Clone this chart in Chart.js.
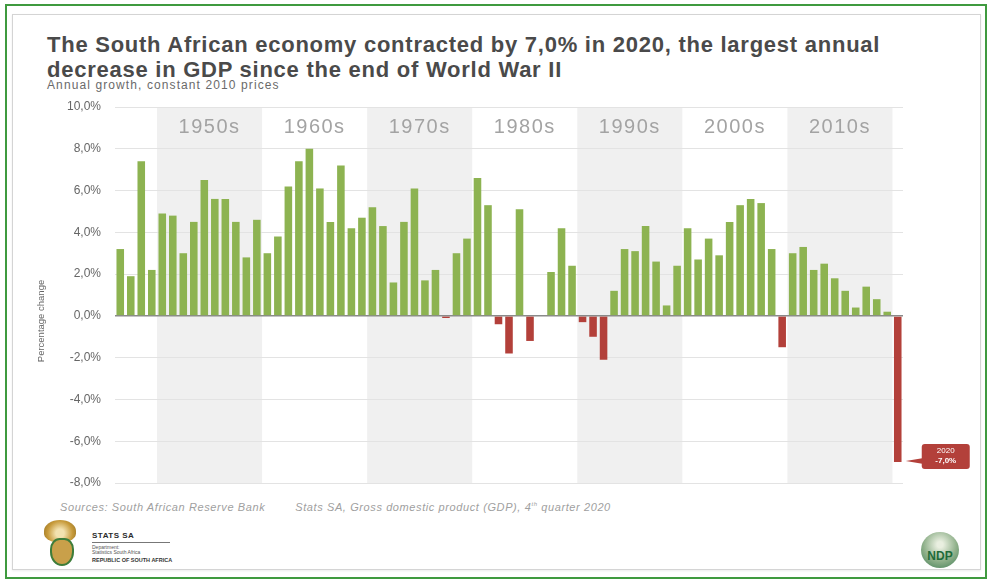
<!DOCTYPE html>
<html>
<head>
<meta charset="utf-8">
<script src="https://cdn.jsdelivr.net/npm/chart.js@4/dist/chart.umd.min.js"></script>
<style>
  body { margin: 0; background: #fff; font-family: "Liberation Sans", Arial, sans-serif; }
  #page { position: relative; width: 991px; height: 582px; overflow: hidden; }
  #frame { position: absolute; left: 5px; top: 4px; width: 978px; height: 571px; border: 2px solid #3f9a3f; }
  #card { position: absolute; left: 12px; top: 14px; width: 967px; height: 554px; border: 1px solid #d4d4d4; box-shadow: 0 1px 2px rgba(0,0,0,0.08); }
  #title { position: absolute; left: 47px; top: 32px; font-weight: bold; font-size: 22px; line-height: 25px; color: #4a4a4a; letter-spacing: 0.75px; white-space: nowrap; }
  #subtitle { position: absolute; left: 47px; top: 78px; font-size: 12px; color: #6a6a6a; letter-spacing: 1.1px; }
  #sources { position: absolute; left: 60px; top: 501px; font-size: 11px; font-style: italic; color: #a0a0a0; letter-spacing: 0.6px; white-space: nowrap; }
  #sources span { margin-right: 30px; }
  #chart { position: absolute; left: 0; top: 0; }
  #arms { position: absolute; left: 44px; top: 520px; width: 32px; height: 48px; }
  #arms .top { position: absolute; left: 0; top: 0; width: 32px; height: 22px; border-radius: 50% 50% 40% 40%; background: radial-gradient(circle at 50% 60%, #f3e2b0 20%, #c79a3a 60%, #8a6a20 100%); }
  #arms .shield { position: absolute; left: 6px; top: 18px; width: 20px; height: 24px; border-radius: 40% 40% 50% 50%; background: #c9a04a; border: 2px solid #3e7d3a; }
  #statsname { position: absolute; left: 92px; top: 531px; font-size: 8px; font-weight: bold; color: #2b2b2b; letter-spacing: 0.5px; }
  #statsline { position: absolute; left: 92px; top: 542px; width: 78px; border-top: 1px solid #777; }
  #statsdept { position: absolute; left: 92px; top: 545px; font-size: 5px; line-height: 5px; color: #555; }
  #statsrep { position: absolute; left: 92px; top: 557px; font-size: 5.5px; font-weight: bold; color: #333; }
  #ndp { position: absolute; left: 921px; top: 532px; width: 38px; height: 36px; border-radius: 50%; background: radial-gradient(circle at 50% 35%, #e9efe0 10%, #8fb08a 55%, #3c7a52 100%); }
  #ndp span { position: absolute; left: 0; width: 38px; top: 17px; text-align: center; font-size: 12px; font-weight: bold; color: #1f6b3a; }
</style>
</head>
<body>
<div id="page">
  <div id="frame"></div>
  <div id="card"></div>
  <div id="title">The South African economy contracted by 7,0% in 2020, the largest annual<br>decrease in GDP since the end of World War II</div>
  <div id="subtitle">Annual growth, constant 2010 prices</div>
  <div id="sources"><span>Sources: South African Reserve Bank</span><span>Stats SA, Gross domestic product (GDP), 4<sup style="font-size:6px">th</sup> quarter 2020</span></div>
  <div id="arms"><div class="top"></div><div class="shield"></div></div>
  <div id="statsname">STATS SA</div>
  <div id="statsline"></div>
  <div id="statsdept">Department:<br>Statistics South Africa</div>
  <div id="statsrep">REPUBLIC OF SOUTH AFRICA</div>
  <div id="ndp"><span>NDP</span></div>
  <canvas id="chart" width="991" height="582"></canvas>
</div>
<script>
// Annual GDP growth, 1946 - 2020
const firstYear = 1946;
const growth = [
  3.2, 1.9, 7.4, 2.2,
  4.9, 4.8, 3.0, 4.5, 6.5, 5.6, 5.6, 4.5, 2.8, 4.6,
  3.0, 3.8, 6.2, 7.4, 8.0, 6.1, 4.5, 7.2, 4.2, 4.7,
  5.2, 4.3, 1.6, 4.5, 6.1, 1.7, 2.2, -0.1, 3.0, 3.7,
  6.6, 5.3, -0.4, -1.8, 5.1, -1.2, 0.0, 2.1, 4.2, 2.4,
  -0.3, -1.0, -2.1, 1.2, 3.2, 3.1, 4.3, 2.6, 0.5, 2.4,
  4.2, 2.7, 3.7, 2.9, 4.5, 5.3, 5.6, 5.4, 3.2, -1.5,
  3.0, 3.3, 2.2, 2.5, 1.8, 1.2, 0.4, 1.4, 0.8, 0.2,
  -7.0
];
const years = growth.map((v, i) => String(firstYear + i));
const decades = ['1950s', '1960s', '1970s', '1980s', '1990s', '2000s', '2010s'];
const decadeStart = [1950, 1960, 1970, 1980, 1990, 2000, 2010];
const shadedDecades = ['1950s', '1970s', '1990s', '2010s'];
const yTicks = [10, 8, 6, 4, 2, 0, -2, -4, -6, -8];

const green = '#8db351';
const red = '#b3403a';

const fmt = v => v.toFixed(1).replace('.', ',') + '%';

const decadeBands = {
  id: 'decadeBands',
  beforeDraw(chart) {
    const { ctx } = chart;
    const x = chart.scales.x, y = chart.scales.y;
    const slot = x.getPixelForValue(1) - x.getPixelForValue(0);
    const top = y.getPixelForValue(10), bottom = y.getPixelForValue(-8);
    ctx.save();
    decades.forEach((d, i) => {
      const i0 = decadeStart[i] - firstYear;
      const x0 = x.getPixelForValue(i0) - slot / 2;
      const x1 = x.getPixelForValue(i0 + 9) + slot / 2;
      if (shadedDecades.includes(d)) {
        ctx.fillStyle = '#f0f0f0';
        ctx.fillRect(x0, top, x1 - x0, bottom - top);
      }
      ctx.fillStyle = '#a3a3a3';
      ctx.font = '20px "Liberation Sans", Arial, sans-serif';
      ctx.letterSpacing = '1.5px';
      ctx.textAlign = 'center';
      ctx.textBaseline = 'middle';
      ctx.fillText(d, (x0 + x1) / 2, y.getPixelForValue(9));
    });
    ctx.restore();
  },
  afterDraw(chart) {
    const { ctx } = chart;
    const x = chart.scales.x, y = chart.scales.y;
    // y axis title
    ctx.save();
    ctx.translate(41, 321);
    ctx.rotate(-Math.PI / 2);
    ctx.fillStyle = '#666';
    ctx.font = '9.5px "Liberation Sans", Arial, sans-serif';
    ctx.textAlign = 'center';
    ctx.textBaseline = 'middle';
    ctx.fillText('Percentage change', 0, 0);
    ctx.restore();
    // 2020 callout
    const last = growth.length - 1;
    const bx = x.getPixelForValue(last);
    const by = y.getPixelForValue(growth[last]);
    const boxL = bx + 24, boxW = 48, boxT = by - 18, boxH = 25;
    ctx.save();
    ctx.fillStyle = red;
    ctx.beginPath();
    ctx.moveTo(bx + 8, by - 1);
    ctx.lineTo(boxL + 2, by - 4);
    ctx.lineTo(boxL + 2, by + 2);
    ctx.closePath();
    ctx.fill();
    ctx.beginPath();
    ctx.roundRect(boxL, boxT, boxW, boxH, 3);
    ctx.fill();
    ctx.fillStyle = '#fff';
    ctx.font = '8px "Liberation Sans", Arial, sans-serif';
    ctx.textAlign = 'center';
    ctx.textBaseline = 'middle';
    ctx.fillText(years[last], boxL + boxW / 2, boxT + 7);
    ctx.font = 'bold 8px "Liberation Sans", Arial, sans-serif';
    ctx.fillText(fmt(growth[last]), boxL + boxW / 2, boxT + 17);
    ctx.restore();
  }
};

new Chart(document.getElementById('chart'), {
  type: 'bar',
  data: {
    labels: years,
    datasets: [{
      data: growth,
      backgroundColor: growth.map(v => v < 0 ? red : green),
      barPercentage: 0.72,
      categoryPercentage: 1.0
    }]
  },
  options: {
    responsive: false,
    animation: false,
    layout: { padding: { left: 35, top: 107, right: 88, bottom: 99 } },
    plugins: { legend: { display: false }, tooltip: { enabled: false } },
    scales: {
      x: { display: false, offset: true },
      y: {
        min: -8, max: 10,
        afterFit(scale) { scale.width = 80; },
        afterBuildTicks(scale) { scale.ticks = yTicks.map(v => ({ value: v })); },
        border: { display: false },
        grid: {
          color: ctx => ctx.tick && ctx.tick.value === 0 ? '#8a8a8a' : '#e3e3e3',
          lineWidth: ctx => ctx.tick && ctx.tick.value === 0 ? 1.5 : 1,
          drawTicks: false
        },
        ticks: {
          padding: 14,
          color: '#666',
          font: { family: '"Liberation Sans", Arial, sans-serif', size: 12 },
          callback: v => fmt(v)
        }
      }
    }
  },
  plugins: [decadeBands]
});
</script>
</body>
</html>
